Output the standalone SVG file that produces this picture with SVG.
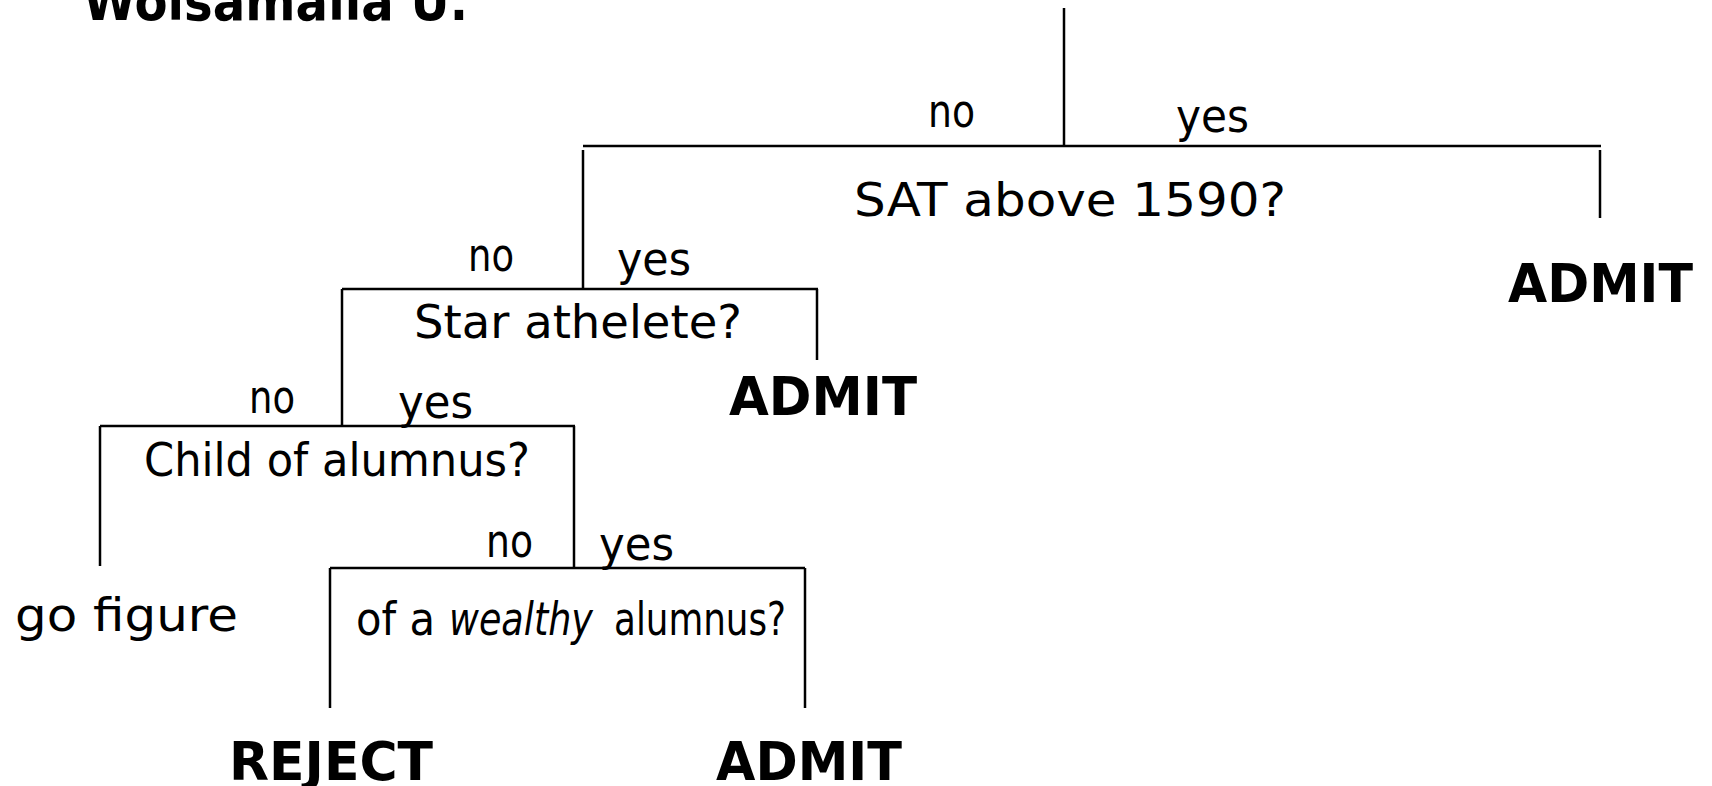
<svg xmlns="http://www.w3.org/2000/svg" width="1712" height="786" viewBox="0 0 1712 786">
<style>
.ln{stroke:#000;stroke-width:2.5;fill:none}
.t{font-family:"DejaVu Sans","Liberation Sans",sans-serif;font-size:46px;fill:#000}
.b{font-family:"DejaVu Sans","Liberation Sans",sans-serif;font-size:54px;font-weight:bold;fill:#000}
.i{font-style:italic}
</style>
<rect width="1712" height="786" fill="#fff"/>
<g id="title"><text class="b" x="83" y="20" font-size="34" textLength="385" lengthAdjust="spacingAndGlyphs">Wolsamalla U.</text></g>
<g id="connectors">
<line class="ln" x1="1064" y1="8" x2="1064" y2="145"/>
<line class="ln" x1="583" y1="146" x2="1601" y2="146"/>
<line class="ln" x1="583" y1="150" x2="583" y2="288"/>
<line class="ln" x1="1600" y1="150" x2="1600" y2="218"/>
<line class="ln" x1="342" y1="289" x2="818" y2="289"/>
<line class="ln" x1="817" y1="289" x2="817" y2="360"/>
<line class="ln" x1="342" y1="289" x2="342" y2="426"/>
<line class="ln" x1="100" y1="426" x2="575" y2="426"/>
<line class="ln" x1="100" y1="426" x2="100" y2="566"/>
<line class="ln" x1="574" y1="426" x2="574" y2="567"/>
<line class="ln" x1="330" y1="568" x2="805" y2="568"/>
<line class="ln" x1="330" y1="568" x2="330" y2="708"/>
<line class="ln" x1="805" y1="568" x2="805" y2="708"/>
</g>
<g id="edge-labels">
<text class="t" x="928" y="127" textLength="47" lengthAdjust="spacingAndGlyphs">no</text>
<text class="t" x="1176" y="132" textLength="73" lengthAdjust="spacingAndGlyphs">yes</text>
<text class="t" x="468" y="271" textLength="46" lengthAdjust="spacingAndGlyphs">no</text>
<text class="t" x="617" y="275" textLength="74" lengthAdjust="spacingAndGlyphs">yes</text>
<text class="t" x="249" y="413" textLength="46" lengthAdjust="spacingAndGlyphs">no</text>
<text class="t" x="398" y="418" textLength="75" lengthAdjust="spacingAndGlyphs">yes</text>
<text class="t" x="486" y="557" textLength="47" lengthAdjust="spacingAndGlyphs">no</text>
<text class="t" x="599" y="560" textLength="75" lengthAdjust="spacingAndGlyphs">yes</text>
</g>
<g id="q-sat"><text class="t" x="854" y="216" textLength="432" lengthAdjust="spacingAndGlyphs">SAT above 1590?</text></g>
<g id="q-star"><text class="t" x="414" y="338" textLength="328" lengthAdjust="spacingAndGlyphs">Star athelete?</text></g>
<g id="q-child"><text class="t" x="144" y="476" textLength="386" lengthAdjust="spacingAndGlyphs">Child of alumnus?</text></g>
<g id="q-wealthy">
<text class="t" x="356" y="635" font-size="42" textLength="79" lengthAdjust="spacingAndGlyphs">of a</text>
<text class="t i" x="449" y="635" font-size="42" textLength="144" lengthAdjust="spacingAndGlyphs">wealthy</text>
<text class="t" x="614" y="635" font-size="42" textLength="172" lengthAdjust="spacingAndGlyphs">alumnus?</text>
</g>
<g id="leaf-admit-1"><text class="b" x="1508" y="302" textLength="185" lengthAdjust="spacingAndGlyphs">ADMIT</text></g>
<g id="leaf-admit-2"><text class="b" x="729" y="415" textLength="188" lengthAdjust="spacingAndGlyphs">ADMIT</text></g>
<g id="leaf-gofigure"><text class="t" x="15" y="631" textLength="223" lengthAdjust="spacingAndGlyphs">go figure</text></g>
<g id="leaf-reject"><text class="b" x="229" y="780" textLength="204" lengthAdjust="spacingAndGlyphs">REJECT</text></g>
<g id="leaf-admit-3"><text class="b" x="716" y="780" textLength="186" lengthAdjust="spacingAndGlyphs">ADMIT</text></g>
</svg>
